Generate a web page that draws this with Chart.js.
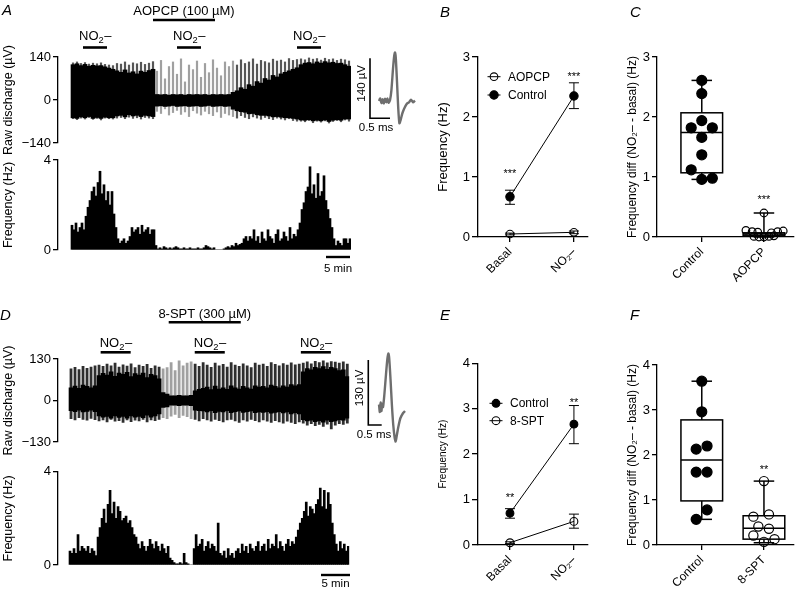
<!DOCTYPE html>
<html><head><meta charset="utf-8"><title>Figure</title>
<script src="https://cdn.jsdelivr.net/npm/chart.js@4.4.1/dist/chart.umd.min.js"></script>
<style>
html,body{margin:0;padding:0;background:#fff;}
#fig{position:relative;width:800px;height:592px;overflow:hidden;background:#fff;}
#fig canvas{position:absolute;}
.pl{position:absolute;font-family:'Liberation Sans',Arial,Helvetica,sans-serif;font-style:italic;font-size:15px;line-height:1;color:#000;}
</style></head>
<body><div id="fig">
<canvas id="rawA" width="360" height="156" style="left:0px;top:0px"></canvas>
<canvas id="histA" width="360" height="134" style="left:0px;top:146px"></canvas>
<canvas id="spikeA" width="70" height="100" style="left:355px;top:40px"></canvas>
<canvas id="chartB" width="170" height="292" style="left:430px;top:0px"></canvas>
<canvas id="chartC" width="180" height="292" style="left:620px;top:0px"></canvas>
<canvas id="rawD" width="360" height="172" style="left:0px;top:290px"></canvas>
<canvas id="histD" width="360" height="132" style="left:0px;top:460px"></canvas>
<canvas id="spikeD" width="70" height="100" style="left:355px;top:345px"></canvas>
<canvas id="chartE" width="170" height="292" style="left:430px;top:300px"></canvas>
<canvas id="chartF" width="180" height="292" style="left:620px;top:300px"></canvas>
<div class="pl" style="left:2px;top:2px">A</div>
<div class="pl" style="left:440px;top:4px">B</div>
<div class="pl" style="left:630px;top:4px">C</div>
<div class="pl" style="left:0px;top:307px">D</div>
<div class="pl" style="left:440px;top:307px">E</div>
<div class="pl" style="left:630px;top:307px">F</div>
</div>
<script>
// ================= DATA =================
// Panel A raw discharge envelope (µV), 70 time bins
const rawA_denseHi = [115,118,112,116,110,113,111,112,108,104,100, 95,90,98,88,92,85,94,90,96,100,
  18,17,18,16,18,17,18,16,18,17,18,17,18,16,18,17,18,17,18,
  25,30,40,35,50,45,60,55,70,65,80,75,85,90,95,100,105,
  115,120,122,118,124,120,125,121,123,119,120,115,110];
const rawA_denseLo = [-58,-60,-55,-58,-54,-60,-57,-60,-56,-58,-58, -52,-50,-55,-48,-52,-50,-54,-50,-52,-54,
  -20,-19,-21,-20,-18,-21,-20,-19,-21,-20,-19,-21,-20,-18,-21,-20,-19,-21,-20,
  -30,-35,-38,-40,-45,-44,-48,-50,-50,-52,-55,-54,-56,-58,-58,-60,-62,
  -65,-66,-64,-68,-66,-68,-65,-70,-66,-64,-66,-62,-62];
const rawA_spikeHi = [122,125,120,123,118,121,119,122,117,115,113, 120,118,125,115,122,119,124,117,121,126,
  95,130,70,110,125,85,135,60,115,100,128,75,120,90,132,105,80,125,110,
  128,115,132,120,125,135,118,130,126,122,134,128,131,125,136,130,133,
  135,132,138,134,136,131,137,133,135,130,134,132,128];
const rawA_spikeLo = [-62,-65,-60,-63,-58,-64,-61,-66,-60,-62,-63, -60,-58,-62,-57,-61,-59,-63,-58,-60,-62,
  -38,-45,-30,-50,-42,-35,-48,-40,-55,-36,-44,-50,-38,-46,-52,-40,-58,-45,-50,
  -55,-60,-52,-58,-62,-56,-60,-64,-58,-62,-65,-60,-63,-66,-62,-68,-70,
  -70,-72,-68,-75,-70,-73,-69,-76,-71,-68,-72,-66,-70];
const rawA_ticks = [-140, 0, 140];
const no2PeriodsA = [[2.5, 8.5], [26, 32], [56, 62]];   // in raw time bins
const drugPeriodA = [20, 35.5];
const drugLabelA = 'AOPCP (100 µM)';

// Panel A frequency histogram (Hz), 140 time bins
const histA = [1.1,0.9,1.2,0.8,1.0,1.2,0.9, 1.5,1.9, 2.2,2.6,2.8,2.4,3.0,3.5, 2.5,2.9,2.2,2.6,2.0,2.6, 1.6,1.0,
  0.5,0.3,0.4,0.5,0.3,0.4,0.6, 1.0,0.8,0.9,1.0,0.7,1.1,0.8,0.9,1.0,0.7,0.9,0.9, 0.2,
  0.05,0.1,0.05,0.15,0.1,0.05,0.1,0.05,0.1,0.15,0.1,0.05,0.05,0.1,0.05,0.05,0.1,0.05,0.05,0.05,0.1,0.05,0.05,0.1,0.2,0.15,0.1,0.05,0.1,
  0,0,0,0,0.05,0.1, 0.15,0.1,0.2,0.15,0.3,0.2,0.25,0.3, 0.5,0.6,0.4,0.6,0.5,
  0.9,0.4,0.6,0.3,0.8,0.5,0.4,0.9,0.6,0.5,0.3,0.7,0.9,0.4,0.5,0.8,0.6,0.4,1.0,0.5,0.7,0.6,0.9,1.2,
  1.8,2.1, 2.6,2.8,3.7, 2.5,2.9,2.3,3.4,2.4,2.6,3.3,2.2, 1.8,1.4,1.0, 0.5, 0.2,0.4,0.3,0.2,0.5,0.5,0.3,0.5];
const histTicks = [0, 4];
const fiveMinA = [127, 139];

// Panel A spike waveform inset (ms, µV)
const spikeA_t = [0,0.03,0.06,0.09,0.12,0.15,0.18,0.21,0.24,0.275,0.31,0.35,0.38,0.40,0.42,0.45,0.48,0.51,0.54,0.58,0.62,0.66,0.70,0.75,0.80,0.85,0.90];
const spikeA_v = [0,6,-5,4,-6,5,-3,6,-4,2,25,75,105,113,100,45,-15,-52,-45,-30,-20,-12,-6,-3,3,-3,1];

// Panel B
const catsBE = ['Basal', 'NO₂–'];
const B_ctrl = [0.67, 2.35], B_ctrlLo = [0.545, 2.14], B_ctrlHi = [0.78, 2.57];
const B_drug = [0.05, 0.078], B_drugLo = [0.035, 0.055], B_drugHi = [0.065, 0.10];
const B_stars = ['***', '***'], B_starY = [1.11, 2.72];

// Panel C (box plots: min, q1, median, q3, max)
const C_cats = ['Control', 'AOPCP'];
const C_ctrl  = [2.61, 2.39, 1.94, 1.82, 1.82, 1.66, 1.37, 1.12, 0.96, 0.98];
const C_ctrlX = [1, 1, 1, 0.83, 1.17, 1, 1, 0.83, 1, 1.17];
const C_drug  = [0.40, 0.11, 0.09, 0.08, 0.07, 0.09, 0.10, 0.01, 0.00, 0.00, 0.01, 0.02];
const C_drugX = [2, 1.71, 1.81, 1.9, 2.12, 2.22, 2.31, 1.84, 1.92, 2.0, 2.08, 2.16];
const C_boxCtrl = [0.96, 1.07, 1.74, 2.07, 2.61];
const C_boxDrug = [0.00, 0.02, 0.05, 0.07, 0.40];
const C_star = '***', C_starY = 0.67;

// Panel D raw discharge envelope (µV), 70 time bins
const rawD_coreHi = [40,45,38,48,44,40,46, 78,85,80,90,76,86,82,88,75,84,80,86,72,82,78,68, 25,20, 15,15,16,15,15,16,
  30,35,38,42,34,45,36,40,35,46,40,36,44,40,36,46,42,44,40,48,44,40,46,42,50,46,50,
  90,100,96,104,100,106,98,104,100,94,96,75];
const rawD_coreLo = [-32,-35,-30,-36,-34,-30,-35, -48,-52,-50,-55,-48,-53,-50,-55,-48,-52,-50,-54,-46,-52,-48,-42, -22,-20, -15,-15,-16,-15,-15,-16,
  -30,-32,-33,-36,-32,-38,-34,-36,-32,-38,-35,-33,-37,-35,-33,-38,-36,-37,-35,-40,-37,-35,-39,-36,-42,-38,-42,
  -60,-64,-62,-66,-63,-68,-62,-66,-64,-60,-62,-55];
const rawD_spikeHi = [100,105,98,108,102,106,110, 112,108,115,110,118,106,113,109,116,104,112,108,114,102,110,106, 100,104, 120,95,125,110,118,122,
  115,108,120,112,105,118,110,114,106,120,112,108,116,110,104,118,112,115,108,120,114,110,117,112,119,113,115,
  118,122,116,124,120,125,119,123,121,118,122,115];
const rawD_spikeLo = [-58,-62,-55,-60,-63,-57,-61, -65,-62,-68,-60,-66,-64,-70,-62,-67,-63,-65,-60,-68,-62,-64,-60, -55,-58, -50,-45,-55,-48,-52,-58,
  -60,-65,-58,-62,-66,-60,-64,-68,-62,-60,-65,-70,-62,-66,-60,-64,-68,-62,-66,-70,-64,-68,-72,-66,-70,-74,-68,
  -72,-78,-74,-80,-76,-82,-75,-90,-78,-74,-76,-72];
const rawD_ticks = [-130, 0, 130];
const no2PeriodsD = [[7.4, 14.9], [30.9, 38.4], [57.4, 64.9]];
const drugPeriodD = [24.4, 42.4];
const drugLabelD = '8-SPT (300 µM)';

// Panel D frequency histogram (Hz), 140 time bins
const histD = [0.6,0.5,0.7,0.5,1.3,0.6,0.8,0.7,0.6,0.8,0.5,0.7,0.6,0.4, 1.2,1.6, 2.0,2.4,1.8,2.6,3.2,
  2.2,2.7,2.0,2.5,2.3,1.9,2.0,2.1,1.8,1.9, 1.6,1.3,1.2, 0.9,0.7,1.0,0.8,0.6,
  0.8,1.1,0.9,0.7,1.0,0.8,0.6,0.9,0.7,0.5,0.8, 0.3,0.2, 0.1,0.05,0.05,0.1, 0.05,0.5,0.1,0.05, 0,0,
  0.7,1.3,0.8,0.9,1.1,0.6,0.8,1.0,0.7,0.9,0.8,0.6, 1.8, 0.5,0.4,0.6,0.3,0.7,0.4,0.5,0.3,0.6,
  0.7,0.5,0.9,0.6,0.8,0.5,0.9,0.7,0.6,0.8,1.0,0.6,0.8,
  0.9,0.6,1.1,0.7,0.9,0.8,1.3,0.7,1.0,0.8,0.6,0.9,1.1,0.8,1.0,0.9,1.2,
  1.5,1.8,2.0, 2.3,2.7,2.1,2.5,2.4,2.2,2.6, 2.8,3.3,2.5,3.2,2.4,3.1,2.6, 1.8,1.3, 0.9,0.6,1.0,0.7,0.9,0.6,0.8];
const fiveMinD = [125.35, 139.85];

// Panel D spike waveform inset (ms, µV)
const spikeD_t = [0,0.03,0.06,0.09,0.12,0.15,0.2,0.26,0.31,0.35,0.38,0.43,0.48,0.53,0.58,0.62,0.66,0.72,0.8,0.9,0.97];
const spikeD_v = [5,-10,9,-8,6,0,25,65,95,107,98,55,5,-35,-60,-69,-58,-40,-22,-12,-8];

// Panel E
const E_ctrl = [0.70, 2.66], E_ctrlLo = [0.59, 2.23], E_ctrlHi = [0.80, 3.07];
const E_drug = [0.05, 0.52], E_drugLo = [0.03, 0.37], E_drugHi = [0.07, 0.68];
const E_stars = ['**', '**'], E_starY = [1.10, 3.19];

// Panel F
const F_cats = ['Control', '8-SPT'];
const F_ctrl  = [3.64, 2.96, 2.13, 2.20, 1.62, 1.62, 0.78, 0.57];
const F_ctrlX = [1, 1, 0.91, 1.085, 0.91, 1.085, 1.085, 0.91];
const F_drug  = [1.42, 0.63, 0.68, 0.41, 0.36, 0.21, 0.07, 0.13];
const F_drugX = [2, 1.83, 2.08, 1.91, 2.08, 1.83, 2, 2.17];
const F_boxCtrl = [0.57, 0.98, 1.89, 2.78, 3.64];
const F_boxDrug = [0.05, 0.13, 0.37, 0.65, 1.42];
const F_star = '**', F_starY = 1.74;

// ================= RENDERING =================
const FONT = "'Liberation Sans', Arial, Helvetica, sans-serif";
Chart.defaults.font.family = FONT;
Chart.defaults.color = '#000';
Chart.defaults.animation = false;
Chart.defaults.plugins.legend.display = false;
Chart.defaults.plugins.tooltip.enabled = false;

const fmtNum = v => (v < 0 ? '−' + Math.abs(v) : String(v));

function drawNO2(ctx, cx, baseY, size) {
  const f1 = size + 'px ' + FONT, f2 = (size * 0.72) + 'px ' + FONT;
  ctx.font = f1; const w1 = ctx.measureText('NO').width, w3 = ctx.measureText('–').width;
  ctx.font = f2; const w2 = ctx.measureText('2').width;
  let x = cx - (w1 + w2 + w3) / 2;
  ctx.textAlign = 'left'; ctx.textBaseline = 'alphabetic';
  ctx.font = f1; ctx.fillText('NO', x, baseY); x += w1;
  ctx.font = f2; ctx.fillText('2', x, baseY + size * 0.22); x += w2;
  ctx.font = f1; ctx.fillText('–', x + 0.5, baseY);
}

const treatPlugin = {
  id: 'treat',
  afterDraw(chart, args, o) {
    if (!o || !o.no2) return;
    const ctx = chart.ctx, xs = chart.scales.x, top = chart.chartArea.top;
    ctx.save(); ctx.fillStyle = '#000'; ctx.strokeStyle = '#000'; ctx.lineWidth = 2.6;
    const bar = (a, b, y) => { ctx.beginPath(); ctx.moveTo(xs.getPixelForValue(a), y); ctx.lineTo(xs.getPixelForValue(b), y); ctx.stroke(); };
    o.no2.forEach(p => {
      bar(p[0], p[1], top + o.no2BarDy);
      drawNO2(ctx, (xs.getPixelForValue(p[0]) + xs.getPixelForValue(p[1])) / 2, top + o.no2TextDy, 13);
    });
    bar(o.drug[0], o.drug[1], top + o.drugBarDy);
    ctx.font = '13px ' + FONT; ctx.textAlign = 'center'; ctx.textBaseline = 'alphabetic';
    ctx.fillText(o.drugLabel, (xs.getPixelForValue(o.drug[0]) + xs.getPixelForValue(o.drug[1])) / 2, top + o.drugTextDy);
    ctx.restore();
  }
};

const minBarPlugin = {
  id: 'minbar',
  afterDraw(chart, args, o) {
    if (!o || !o.range) return;
    const ctx = chart.ctx, xs = chart.scales.x, b = chart.chartArea.bottom;
    const x0 = xs.getPixelForValue(o.range[0]), x1 = xs.getPixelForValue(o.range[1]);
    ctx.save(); ctx.strokeStyle = '#000'; ctx.lineWidth = 2.4;
    ctx.beginPath(); ctx.moveTo(x0, b + o.barDy); ctx.lineTo(x1, b + o.barDy); ctx.stroke();
    ctx.fillStyle = '#000'; ctx.font = '11.5px ' + FONT; ctx.textAlign = 'center'; ctx.textBaseline = 'alphabetic';
    ctx.fillText('5 min', (x0 + x1) / 2, b + o.textDy);
    ctx.restore();
  }
};

const sbarPlugin = {
  id: 'sbar',
  afterDraw(chart, args, o) {
    if (!o || o.t == null) return;
    const ctx = chart.ctx, xs = chart.scales.x, ys = chart.scales.y;
    const x0 = xs.getPixelForValue(o.t), x1 = xs.getPixelForValue(o.t + o.dt);
    const yb = ys.getPixelForValue(o.v), yt = ys.getPixelForValue(o.v + o.dv);
    ctx.save(); ctx.strokeStyle = '#000'; ctx.lineWidth = 1.6;
    ctx.beginPath(); ctx.moveTo(x0, yt); ctx.lineTo(x0, yb); ctx.lineTo(x1, yb); ctx.stroke();
    ctx.fillStyle = '#000'; ctx.font = '11.5px ' + FONT;
    ctx.save(); ctx.translate(x0 - 8, (yt + yb) / 2 - o.vShift); ctx.rotate(-Math.PI / 2);
    ctx.textAlign = 'center'; ctx.textBaseline = 'middle'; ctx.fillText(o.vLabel, 0, 0); ctx.restore();
    ctx.textAlign = 'center'; ctx.textBaseline = 'alphabetic';
    ctx.fillText(o.tLabel, (x0 + x1) / 2 + o.tShift, yb + o.tDy);
    ctx.restore();
  }
};

const errPlugin = {
  id: 'errbars',
  beforeDatasetsDraw(chart) {
    const ctx = chart.ctx, xs = chart.scales.x, ys = chart.scales.y;
    ctx.save(); ctx.strokeStyle = '#000'; ctx.lineWidth = 1;
    chart.data.datasets.forEach(ds => {
      if (!ds.errLo) return;
      ds.data.forEach((p, i) => {
        const x = xs.getPixelForValue(p.x), y0 = ys.getPixelForValue(ds.errLo[i]), y1 = ys.getPixelForValue(ds.errHi[i]);
        ctx.beginPath();
        ctx.moveTo(x, y0); ctx.lineTo(x, y1);
        ctx.moveTo(x - 5, y0); ctx.lineTo(x + 5, y0);
        ctx.moveTo(x - 5, y1); ctx.lineTo(x + 5, y1);
        ctx.stroke();
      });
    });
    ctx.restore();
  }
};

const starPlugin = {
  id: 'stars',
  afterDatasetsDraw(chart, args, o) {
    if (!o || !o.items) return;
    const ctx = chart.ctx, xs = chart.scales.x, ys = chart.scales.y, sz = 11;
    ctx.save(); ctx.fillStyle = '#000'; ctx.font = sz + 'px ' + FONT; ctx.textAlign = 'center'; ctx.textBaseline = 'alphabetic';
    o.items.forEach(s => ctx.fillText(s.text, xs.getPixelForValue(s.x), ys.getPixelForValue(s.y) + 0.58 * sz));
    ctx.restore();
  }
};

const legendPlugin = {
  id: 'miniLegend',
  afterDatasetsDraw(chart, args, o) {
    if (!o || !o.order) return;
    const { ctx, chartArea } = chart;
    ctx.save();
    o.order.forEach((di, k) => {
      const ds = chart.data.datasets[di];
      const x = chartArea.left + o.dx, y = chartArea.top + o.dy + k * o.gap;
      ctx.strokeStyle = '#000'; ctx.lineWidth = 1;
      ctx.beginPath(); ctx.moveTo(x - 6.5, y); ctx.lineTo(x + 6.5, y); ctx.stroke();
      ctx.beginPath(); ctx.arc(x, y, ds.pointRadius, 0, Math.PI * 2);
      ctx.fillStyle = ds.pointBackgroundColor; ctx.fill(); ctx.lineWidth = ds.pointBorderWidth; ctx.stroke();
      ctx.fillStyle = '#000'; ctx.font = '12px ' + FONT; ctx.textAlign = 'left'; ctx.textBaseline = 'middle';
      ctx.fillText(ds.label, x + o.textDx, y + 0.5);
    });
    ctx.restore();
  }
};

const boxPlugin = {
  id: 'boxes',
  beforeDatasetsDraw(chart, args, o) {
    if (!o || !o.items) return;
    const ctx = chart.ctx, xs = chart.scales.x, ys = chart.scales.y, Y = v => ys.getPixelForValue(v);
    ctx.save(); ctx.strokeStyle = '#000'; ctx.lineWidth = 1.5;
    const line = (a, b, c, d) => { ctx.beginPath(); ctx.moveTo(a, b); ctx.lineTo(c, d); ctx.stroke(); };
    o.items.forEach(b => {
      const [mn, q1, md, q3, mx] = b.stats;
      const xl = xs.getPixelForValue(b.x - o.halfW), xr = xs.getPixelForValue(b.x + o.halfW);
      const xc = xs.getPixelForValue(b.x), cl = xs.getPixelForValue(b.x - o.capW), cr = xs.getPixelForValue(b.x + o.capW);
      line(xc, Y(q3), xc, Y(mx)); line(cl, Y(mx), cr, Y(mx));
      line(xc, Y(q1), xc, Y(mn)); line(cl, Y(mn), cr, Y(mn));
      ctx.strokeRect(xl, Y(q3), xr - xl, Y(q1) - Y(q3));
      line(xl, Y(md), xr, Y(md));
    });
    ctx.restore();
  }
};

function yAxis(o) {
  const ax = {
    min: o.min, max: o.max,
    border: { display: true, color: '#000', width: 1.3 },
    grid: { display: true, drawOnChartArea: false, drawTicks: true, tickLength: o.tl || 5, color: '#000', lineWidth: 1.3 },
    ticks: { color: '#000', font: { size: 13, family: FONT }, padding: 2, stepSize: o.step, callback: v => fmtNum(v) },
    title: { display: true, text: o.title, color: '#000', font: { size: o.tsize, family: FONT }, padding: { top: o.tpad, bottom: 0 } },
    afterFit: s => { s.width = o.w; }
  };
  if (o.ticksAt) ax.afterBuildTicks = s => { s.ticks = o.ticksAt.map(v => ({ value: v })); };
  return ax;
}

function xCatAxis(o) {
  return {
    type: 'linear', min: o.min, max: o.max, offset: false,
    border: { display: true, color: '#000', width: 1.3 },
    grid: { display: true, drawOnChartArea: false, drawTicks: true, tickLength: 5, color: '#000', lineWidth: 1.3 },
    ticks: { color: '#000', font: { size: 12, family: FONT }, padding: 3, minRotation: 45, maxRotation: 45, autoSkip: false,
      callback: v => { const k = o.pos.indexOf(v); return k >= 0 ? o.labels[k] : ''; } },
    afterBuildTicks: s => { s.ticks = o.pos.map(v => ({ value: v })); },
    afterFit: s => { s.height = o.h; }
  };
}

function rawChart(id, d) {
  const dense = d.denseHi.map((h, i) => ({ x: i, y: [d.denseLo[i], h] }));
  const spikes = d.spikeHi.map((h, i) => ({ x: i, y: [d.spikeLo[i], h] }));
  return new Chart(document.getElementById(id), {
    type: 'bar',
    data: { datasets: [
      { data: dense, backgroundColor: '#000', barPercentage: 1, categoryPercentage: 1, grouped: false },
      { data: spikes, backgroundColor: c => (d.denseHi[c.dataIndex] < 30 ? '#a0a0a0' : d.spikeColor), barPercentage: d.spikeW, categoryPercentage: 1, grouped: false }
    ] },
    options: {
      responsive: false, events: [], devicePixelRatio: 1,
      layout: { padding: { top: d.padTop, bottom: d.padBottom, left: 0, right: d.padRight } },
      plugins: { treat: d.treat },
      scales: {
        x: { type: 'linear', min: d.xmin, max: d.xmax, display: false, offset: false, grid: { offset: false } },
        y: yAxis({ min: d.ticks[0], max: d.ticks[2], ticksAt: d.ticks, title: 'Raw discharge (µV)', tsize: 12.5, tpad: 1.5, w: 58 })
      }
    },
    plugins: [treatPlugin]
  });
}

function histChart(id, d) {
  return new Chart(document.getElementById(id), {
    type: 'bar',
    data: { datasets: [{ data: d.values.map((v, i) => ({ x: i, y: v })), backgroundColor: '#000', barPercentage: 1, categoryPercentage: 1, grouped: false }] },
    options: {
      responsive: false, events: [], devicePixelRatio: 1,
      layout: { padding: { top: d.padTop, bottom: d.padBottom, left: 0, right: d.padRight } },
      plugins: { minbar: { range: d.fiveMin, barDy: d.barDy, textDy: d.textDy } },
      scales: {
        x: { type: 'linear', min: d.xmin, max: d.xmax, display: false, offset: false, grid: { offset: false } },
        y: yAxis({ min: 0, max: 4, ticksAt: histTicks, title: 'Frequency (Hz)', tsize: 12.5, tpad: 1.5, w: 58 })
      }
    },
    plugins: [minBarPlugin]
  });
}

function spikeChart(id, t, v, d) {
  return new Chart(document.getElementById(id), {
    type: 'scatter',
    data: { datasets: [{ data: t.map((x, i) => ({ x, y: v[i] })), showLine: true, pointRadius: 0, borderColor: '#6e6e6e', borderWidth: 2.4, tension: 0.25, clip: false }] },
    options: {
      responsive: false, events: [], devicePixelRatio: 1,
      layout: { padding: 0 },
      plugins: { sbar: d.sbar },
      scales: { x: { type: 'linear', display: false, min: d.tmin, max: d.tmax }, y: { type: 'linear', display: false, min: d.vmin, max: d.vmax } }
    },
    plugins: [sbarPlugin]
  });
}

const xAt = i => 1 + 2 * i;
function lineDs(label, vals, lo, hi, filled, r) {
  return { label, data: vals.map((v, i) => ({ x: xAt(i), y: v })), errLo: lo, errHi: hi,
    borderColor: '#000', borderWidth: 1, pointRadius: r, pointBackgroundColor: filled ? '#000' : 'rgba(0,0,0,0)',
    pointBorderColor: '#000', pointBorderWidth: 1.1, clip: false, tension: 0, fill: false };
}

function lineChart(id, d) {
  return new Chart(document.getElementById(id), {
    type: 'line',
    data: { datasets: d.datasets },
    options: {
      responsive: false, events: [], devicePixelRatio: 1,
      layout: { padding: { top: d.padTop, bottom: 0, left: 0, right: d.padRight } },
      plugins: { stars: { items: d.stars }, miniLegend: d.legend },
      scales: {
        x: xCatAxis({ min: 0, max: 3.44, pos: catsBE.map((c, i) => xAt(i)), labels: catsBE, h: d.xh }),
        y: yAxis({ min: 0, max: d.ymax, step: 1, title: 'Frequency (Hz)', tsize: d.tsize, tpad: d.tpad, w: 48, tl: 6 })
      }
    },
    plugins: [errPlugin, starPlugin, legendPlugin]
  });
}

function scatDs(label, vals, xs, filled, r) {
  return { label, data: vals.map((v, i) => ({ x: xs[i], y: v })), pointRadius: r,
    pointBackgroundColor: filled ? '#000' : 'rgba(0,0,0,0)', pointBorderColor: '#000', pointBorderWidth: 1.2, showLine: false, clip: false };
}

function boxChart(id, d) {
  return new Chart(document.getElementById(id), {
    type: 'scatter',
    data: { datasets: d.datasets },
    options: {
      responsive: false, events: [], devicePixelRatio: 1,
      layout: { padding: { top: d.padTop, bottom: 0, left: 0, right: 2 } },
      plugins: { boxes: { items: d.boxes, halfW: 0.335, capW: 0.165 }, stars: { items: d.stars } },
      scales: {
        x: xCatAxis({ min: 0.28, max: 2.48, pos: [1, 2], labels: d.cats, h: d.xh }),
        y: yAxis({ min: 0, max: d.ymax, step: 1, title: 'Frequency diff (NO₂– - basal) (Hz)', tsize: 12, tpad: 5.8, w: 37, tl: 5 })
      }
    },
    plugins: [boxPlugin, starPlugin]
  });
}

// ---- Panel A ----
rawChart('rawA', { denseHi: rawA_denseHi, denseLo: rawA_denseLo, spikeHi: rawA_spikeHi, spikeLo: rawA_spikeLo,
  spikeColor: '#555', spikeW: 0.55, ticks: rawA_ticks, xmin: -3.75, xmax: 69.5, padTop: 57, padBottom: 13, padRight: 9,
  treat: { no2: no2PeriodsA, drug: drugPeriodA, drugLabel: drugLabelA, no2BarDy: -9.5, no2TextDy: -17, drugBarDy: -37, drugTextDy: -42 } });
histChart('histA', { values: histA, xmin: -7, xmax: 139.5, padTop: 14, padBottom: 30, padRight: 9, fiveMin: fiveMinA, barDy: 7, textDy: 22 });
spikeChart('spikeA', spikeA_t, spikeA_v, { tmin: -0.6, tmax: 1.15, vmin: -91, vmax: 142.3,
  sbar: { t: -0.225, dt: 0.5, v: -40.4, dv: 140, vLabel: '140 µV', tLabel: '0.5 ms', vShift: 5, tShift: -4, tDy: 12.5 } });

// ---- Panel B ----
lineChart('chartB', {
  datasets: [lineDs('Control', B_ctrl, B_ctrlLo, B_ctrlHi, true, 4.2), lineDs('AOPCP', B_drug, B_drugLo, B_drugHi, false, 3.8)],
  stars: B_stars.map((s, i) => ({ text: s, x: xAt(i), y: B_starY[i] })),
  legend: { order: [1, 0], dx: 16, dy: 19.7, gap: 18.3, textDx: 14 },
  padTop: 57, padRight: 12, xh: 55, ymax: 3, tsize: 13, tpad: 5.2
});

// ---- Panel C ----
boxChart('chartC', {
  datasets: [scatDs('Control', C_ctrl, C_ctrlX, true, 5), scatDs('AOPCP', C_drug, C_drugX, false, 3.8)],
  boxes: [{ x: 1, stats: C_boxCtrl }, { x: 2, stats: C_boxDrug }],
  stars: [{ text: C_star, x: 2, y: C_starY }],
  cats: C_cats, padTop: 57, xh: 55, ymax: 3
});

// ---- Panel D ----
rawChart('rawD', { denseHi: rawD_coreHi, denseLo: rawD_coreLo, spikeHi: rawD_spikeHi, spikeLo: rawD_spikeLo,
  spikeColor: '#2e2e2e', spikeW: 0.7, ticks: rawD_ticks, xmin: -3.25, xmax: 69.5, padTop: 69, padBottom: 20, padRight: 10.7,
  treat: { no2: no2PeriodsD, drug: drugPeriodD, drugLabel: drugLabelD, no2BarDy: -6.7, no2TextDy: -12, drugBarDy: -36.7, drugTextDy: -41 } });
histChart('histD', { values: histD, xmin: -6, xmax: 139.5, padTop: 11.7, padBottom: 27, padRight: 10.7, fiveMin: fiveMinD, barDy: 10, textDy: 22 });
spikeChart('spikeD', spikeD_t, spikeD_v, { tmin: -0.896, tmax: 1.716, vmin: -76, vmax: 124,
  sbar: { t: -0.4, dt: 0.5, v: -36, dv: 130, vLabel: '130 µV', tLabel: '0.5 ms', vShift: 4.5, tShift: -1, tDy: 13 } });

// ---- Panel E ----
lineChart('chartE', {
  datasets: [lineDs('Control', E_ctrl, E_ctrlLo, E_ctrlHi, true, 3.9), lineDs('8-SPT', E_drug, E_drugLo, E_drugHi, false, 3.9)],
  stars: E_stars.map((s, i) => ({ text: s, x: xAt(i), y: E_starY[i] })),
  legend: { order: [0, 1], dx: 18, dy: 40, gap: 17.4, textDx: 14 },
  padTop: 63.3, padRight: 12, xh: 47, ymax: 4, tsize: 10, tpad: 7
});

// ---- Panel F ----
boxChart('chartF', {
  datasets: [scatDs('Control', F_ctrl, F_ctrlX, true, 5), scatDs('8-SPT', F_drug, F_drugX, false, 4.6)],
  boxes: [{ x: 1, stats: F_boxCtrl }, { x: 2, stats: F_boxDrug }],
  stars: [{ text: F_star, x: 2, y: F_starY }],
  cats: F_cats, padTop: 65, xh: 47, ymax: 4
});
</script>
</body></html>
